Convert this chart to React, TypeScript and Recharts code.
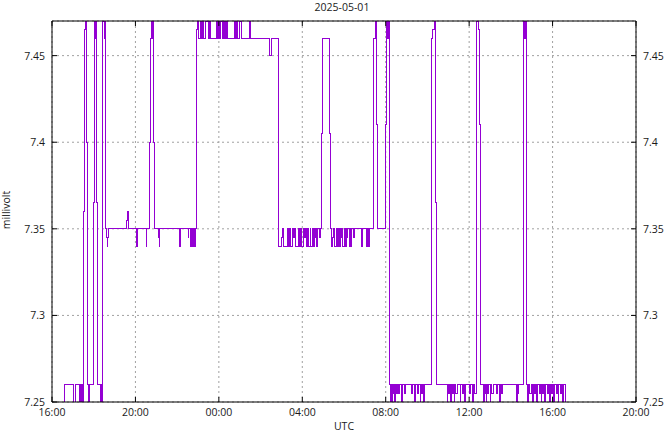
import React from "react";
import { CartesianGrid, Line, LineChart, XAxis, YAxis } from "recharts";

// minutes after 16:00 UTC (the day before the title date)
const times = [
  33, 35, 62, 68, 78, 80, 83, 85, 87, 90,
  93, 96, 100, 102, 106, 108, 119, 123, 125, 126,
  128, 130, 140, 142, 144, 146, 150, 151, 153, 155,
  157, 160, 161, 162, 213, 217, 219, 221, 242, 244,
  245, 271, 273, 280, 283, 286, 288, 290, 291, 294,
  306, 308, 309, 366, 370, 392, 394, 397, 400, 404,
  406, 408, 411, 412, 414, 416, 418, 420, 427, 430,
  433, 435, 443, 449, 452, 457, 472, 475, 477, 478,
  480, 481, 485, 490, 493, 496, 498, 501, 502, 504,
  524, 526, 528, 531, 533, 535, 539, 544, 567, 572,
  625, 627, 632, 651, 659, 663, 665, 677, 679, 682,
  685, 692, 694, 697, 700, 708, 710, 713, 714, 717,
  719, 723, 726, 729, 731, 736, 739, 743, 745, 748,
  752, 754, 757, 759, 762, 765, 769, 771, 775, 778,
  798, 802, 803, 808, 811, 814, 819, 821, 824, 826,
  829, 831, 834, 837, 840, 844, 846, 849, 851, 855,
  857, 860, 863, 866, 869, 891, 893, 905, 907, 910,
  913, 924, 930, 934, 936, 960, 963, 966, 967, 970,
  974, 976, 978, 980, 982, 984, 986, 988, 990, 993,
  998, 1001, 1004, 1007, 1013, 1017, 1033, 1038, 1043, 1045,
  1050, 1054, 1059, 1060, 1064, 1067, 1070, 1072, 1092, 1096,
  1100, 1103, 1105, 1137, 1139, 1141, 1144, 1146, 1148, 1151,
  1154, 1157, 1158, 1162, 1166, 1174, 1176, 1180, 1183, 1188,
  1190, 1202, 1205, 1210, 1212, 1216, 1220, 1221, 1228, 1231,
  1234, 1241, 1243, 1245, 1248, 1249, 1251, 1254, 1257, 1260,
  1262, 1265, 1269, 1279, 1283, 1286, 1289, 1292, 1297, 1337,
  1339, 1341, 1343, 1356, 1358, 1361, 1364, 1366, 1369, 1371,
  1375, 1378, 1381, 1384, 1387, 1390, 1394, 1396, 1401, 1404,
  1407, 1409, 1412, 1415, 1418, 1420, 1424, 1427, 1431, 1433,
  1436, 1440, 1444, 1446, 1450, 1453, 1456, 1458, 1462, 1466,
  1469, 1471, 1476,
];

const millivolt = [
  7.25, 7.26, 7.25, 7.26, 7.25, 7.26, 7.25, 7.26, 7.25, 7.36,
  7.465, 7.47, 7.4, 7.26, 7.25, 7.26, 7.365, 7.47, 7.46, 7.47,
  7.365, 7.26, 7.25, 7.26, 7.25, 7.47, 7.46, 7.47, 7.46, 7.35,
  7.345, 7.34, 7.345, 7.35, 7.355, 7.36, 7.355, 7.35, 7.345, 7.34,
  7.35, 7.34, 7.35, 7.4, 7.46, 7.47, 7.46, 7.47, 7.4, 7.35,
  7.345, 7.34, 7.35, 7.34, 7.35, 7.345, 7.35, 7.34, 7.35, 7.34,
  7.35, 7.34, 7.35, 7.34, 7.35, 7.465, 7.47, 7.46, 7.47, 7.46,
  7.47, 7.46, 7.47, 7.46, 7.47, 7.46, 7.47, 7.46, 7.47, 7.46,
  7.47, 7.46, 7.47, 7.46, 7.47, 7.46, 7.47, 7.46, 7.47, 7.46,
  7.47, 7.46, 7.47, 7.46, 7.47, 7.46, 7.47, 7.46, 7.47, 7.46,
  7.455, 7.45, 7.46, 7.34, 7.345, 7.35, 7.34, 7.35, 7.34, 7.35,
  7.34, 7.35, 7.345, 7.35, 7.34, 7.35, 7.34, 7.35, 7.34, 7.35,
  7.34, 7.35, 7.345, 7.35, 7.34, 7.35, 7.34, 7.35, 7.34, 7.35,
  7.34, 7.35, 7.345, 7.35, 7.34, 7.35, 7.345, 7.35, 7.405, 7.46,
  7.405, 7.35, 7.34, 7.345, 7.35, 7.34, 7.35, 7.34, 7.35, 7.34,
  7.35, 7.345, 7.35, 7.34, 7.35, 7.34, 7.35, 7.345, 7.35, 7.34,
  7.35, 7.34, 7.35, 7.345, 7.35, 7.34, 7.35, 7.34, 7.35, 7.34,
  7.35, 7.46, 7.47, 7.41, 7.35, 7.41, 7.47, 7.46, 7.47, 7.26,
  7.25, 7.26, 7.25, 7.26, 7.255, 7.26, 7.25, 7.26, 7.255, 7.26,
  7.255, 7.26, 7.25, 7.26, 7.255, 7.26, 7.255, 7.26, 7.25, 7.26,
  7.255, 7.26, 7.25, 7.26, 7.255, 7.26, 7.25, 7.26, 7.46, 7.465,
  7.47, 7.365, 7.26, 7.25, 7.26, 7.255, 7.26, 7.25, 7.26, 7.255,
  7.26, 7.25, 7.26, 7.255, 7.26, 7.25, 7.26, 7.255, 7.26, 7.25,
  7.26, 7.255, 7.26, 7.25, 7.26, 7.255, 7.26, 7.47, 7.465, 7.41,
  7.26, 7.25, 7.26, 7.255, 7.26, 7.25, 7.26, 7.255, 7.26, 7.25,
  7.26, 7.255, 7.26, 7.255, 7.26, 7.25, 7.26, 7.255, 7.26, 7.25,
  7.26, 7.255, 7.26, 7.47, 7.46, 7.47, 7.365, 7.26, 7.25, 7.26,
  7.255, 7.26, 7.25, 7.26, 7.255, 7.26, 7.25, 7.26, 7.255, 7.26,
  7.25, 7.26, 7.255, 7.26, 7.25, 7.26, 7.255, 7.26, 7.25, 7.26,
  7.255, 7.26, 7.25, 7.26, 7.255, 7.26, 7.25, 7.26, 7.255, 7.26,
  7.25, 7.26, 7.25,
];

const xTicks = [0, 240, 480, 720, 960, 1200, 1440, 1680];
const yTicks = [7.25, 7.3, 7.35, 7.4, 7.45];

const data = times.map((t, i) => ({ t, mv: millivolt[i] }));

const FONT = '"Open Sans", "Noto Sans", sans-serif';
const INK = "#1a1a1a";
const FS = 10.5;

const hourLabel = (m: number) =>
  `${String((16 + Math.round(m / 60)) % 24).padStart(2, "0")}:00`;

const BottomTick = ({ x, y, payload }: any) => (
  <g>
    <line x1={x} y1={y} x2={x} y2={y - 5} stroke="#000" />
    <text x={x} y={y + 13.7} textAnchor="middle" fontSize={FS} fontFamily={FONT} fill={INK}>
      {hourLabel(payload.value)}
    </text>
  </g>
);

const TopTick = ({ x, y }: any) => <line x1={x} y1={y} x2={x} y2={y + 5} stroke="#000" />;

const LeftTick = ({ x, y, payload }: any) => (
  <g>
    <line x1={x} y1={y} x2={x + 5} y2={y} stroke="#000" />
    <text x={x - 7} y={y + 3.9} textAnchor="end" fontSize={FS} fontFamily={FONT} fill={INK}>
      {String(payload.value)}
    </text>
  </g>
);

const RightTick = ({ x, y, payload }: any) => (
  <g>
    <line x1={x} y1={y} x2={x - 5} y2={y} stroke="#000" />
    <text x={x + 7} y={y + 3.9} textAnchor="start" fontSize={FS} fontFamily={FONT} fill={INK}>
      {String(payload.value)}
    </text>
  </g>
);

export default function App() {
  return (
    <div style={{ position: "relative", width: 664, height: 432, background: "#fff" }}>
      <style>{`body{margin:0}`}</style>
      <LineChart
        width={664}
        height={432}
        data={data}
        margin={{ top: 0, right: 0, bottom: 0, left: 0 }}
      >
        <CartesianGrid stroke="#a0a0a0" strokeDasharray="2 3" />
        <XAxis
          dataKey="t"
          type="number"
          domain={[0, 1680]}
          ticks={xTicks}
          interval={0}
          allowDataOverflow
          height={30}
          tickSize={0}
          tickMargin={0}
          tickLine={false}
          axisLine={{ stroke: "#000" }}
          tick={BottomTick}
        />
        <XAxis
          xAxisId="top"
          orientation="top"
          dataKey="t"
          type="number"
          domain={[0, 1680]}
          ticks={xTicks}
          interval={0}
          allowDataOverflow
          height={21}
          tickSize={0}
          tickMargin={0}
          tickLine={false}
          axisLine={{ stroke: "#000" }}
          tick={TopTick}
        />
        <YAxis
          type="number"
          domain={[7.25, 7.47]}
          ticks={yTicks}
          interval={0}
          allowDataOverflow
          width={52}
          tickSize={0}
          tickMargin={0}
          tickLine={false}
          axisLine={{ stroke: "#000" }}
          tick={LeftTick}
        />
        <YAxis
          yAxisId="right"
          orientation="right"
          type="number"
          domain={[7.25, 7.47]}
          ticks={yTicks}
          interval={0}
          allowDataOverflow
          width={28}
          tickSize={0}
          tickMargin={0}
          tickLine={false}
          axisLine={{ stroke: "#000" }}
          tick={RightTick}
        />
        <Line
          type="stepAfter"
          dataKey="mv"
          stroke="#9400d3"
          strokeWidth={1}
          shapeRendering="crispEdges"
          dot={false}
          activeDot={false}
          isAnimationActive={false}
        />
      </LineChart>
      <svg
        width={664}
        height={432}
        style={{ position: "absolute", left: 0, top: 0, pointerEvents: "none" }}
        fontFamily={FONT}
        fontSize={FS}
        fill={INK}
      >
        <text x={342} y={10.5} textAnchor="middle">2025-05-01</text>
        <text x={344} y={430} textAnchor="middle">UTC</text>
        <text x={10} y={210} textAnchor="middle" transform="rotate(-90 10 210)">millivolt</text>
      </svg>
    </div>
  );
}
